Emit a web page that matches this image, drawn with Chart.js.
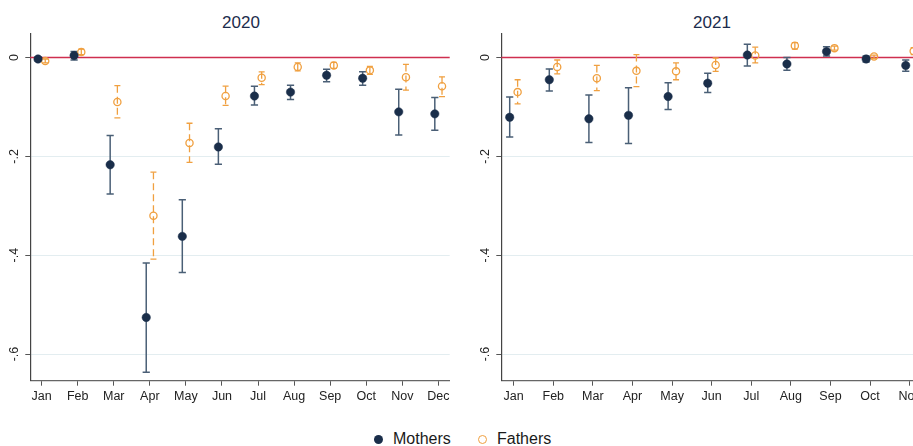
<!DOCTYPE html>
<html>
<head>
<meta charset="utf-8">
<script src="https://cdn.jsdelivr.net/npm/chart.js"></script>
<style>
  html, body { margin: 0; padding: 0; background: #fff; }
  body { width: 913px; height: 446px; overflow: hidden; position: relative;
         font-family: "Liberation Sans", Arial, sans-serif; }
  .panel { position: absolute; top: 0; height: 410px; }
  #box2020 { left: 0; width: 455px; }
  #box2021 { left: 471px; width: 500px; }
  .title { position: absolute; top: 13px; font-size: 17px; line-height: 20px;
           color: #1c2c4c; transform: translateX(-50%); white-space: nowrap; }
  .legend { position: absolute; top: 430px; left: 0; width: 913px; height: 18px; }
  .legend .item { position: absolute; top: 0; font-size: 16px; line-height: 18px; color: #1a1a1a; white-space: nowrap; }
  .legend .dot { position: absolute; width: 9px; height: 9px; border-radius: 50%; box-sizing: border-box; }
</style>
</head>
<body>
<div class="title" style="left:241px">2020</div>
<div class="title" style="left:712px">2021</div>
<div class="panel" id="box2020"><canvas id="c2020"></canvas></div>
<div class="panel" id="box2021"><canvas id="c2021"></canvas></div>
<div class="legend">
  <span class="dot" style="left:374px; top:4.5px; background:#1a2e4a;"></span>
  <span class="item" style="left:393px">Mothers</span>
  <span class="dot" style="left:477.5px; top:4.5px; border:1.5px solid #f0a040;"></span>
  <span class="item" style="left:497px">Fathers</span>
</div>
<script>
// Month labels and y-axis tick values
const months = ['Jan','Feb','Mar','Apr','May','Jun','Jul','Aug','Sep','Oct','Nov','Dec'];
const yTicks = [0, -0.2, -0.4, -0.6];

// 2020 estimates with 95% confidence bounds
const mothers2020   = [-0.003, 0.004, -0.217, -0.526, -0.362, -0.181, -0.078, -0.070, -0.036, -0.042, -0.110, -0.114];
const mothers2020Lo = [-0.007, -0.005, -0.276, -0.637, -0.435, -0.216, -0.096, -0.085, -0.049, -0.056, -0.157, -0.147];
const mothers2020Hi = [0.001, 0.012, -0.158, -0.416, -0.288, -0.144, -0.058, -0.056, -0.024, -0.029, -0.064, -0.081];
const fathers2020   = [-0.007, 0.011, -0.090, -0.320, -0.173, -0.078, -0.041, -0.019, -0.016, -0.026, -0.040, -0.058];
const fathers2020Lo = [-0.011, 0.006, -0.122, -0.408, -0.212, -0.097, -0.055, -0.027, -0.022, -0.034, -0.066, -0.079];
const fathers2020Hi = [-0.003, 0.017, -0.057, -0.232, -0.133, -0.058, -0.029, -0.011, -0.010, -0.018, -0.014, -0.039];

// 2021 estimates with 95% confidence bounds
const mothers2021   = [-0.121, -0.045, -0.124, -0.117, -0.079, -0.052, 0.005, -0.013, 0.012, -0.003, -0.016];
const mothers2021Lo = [-0.161, -0.068, -0.172, -0.174, -0.105, -0.071, -0.017, -0.026, 0.003, -0.009, -0.028];
const mothers2021Hi = [-0.080, -0.023, -0.076, -0.061, -0.051, -0.032, 0.027, 0.000, 0.022, 0.003, -0.005];
const fathers2021   = [-0.070, -0.019, -0.042, -0.027, -0.028, -0.015, 0.004, 0.024, 0.019, 0.002, 0.013];
const fathers2021Lo = [-0.094, -0.033, -0.067, -0.059, -0.045, -0.028, -0.011, 0.017, 0.015, -0.002, 0.006];
const fathers2021Hi = [-0.045, -0.005, -0.016, 0.006, -0.011, -0.001, 0.021, 0.030, 0.023, 0.005, 0.020];

const FONT = '"Liberation Sans", Arial, sans-serif';
const NAVY = '#1a2e4a';
const ORANGE = '#f0a040';

const barStyle = {
  Mothers: { color: '#4a5f76', width: 1.5, cap: 3.6, dash: [] },
  Fathers: { color: ORANGE, width: 1.3, cap: 3.0, dash: [7, 4] }
};

function points(vals, lo, hi, shift) {
  return vals.map((v, i) => ({ x: i + 1 + shift, y: v, lo: lo[i], hi: hi[i] }));
}

function fmtY(v) {
  if (Math.abs(v) < 1e-9) return '0';
  return (v < 0 ? '-' : '') + Math.abs(v).toFixed(1).replace(/^0/, '');
}

// Horizontal reference line at zero
const zeroLine = {
  id: 'zeroLine',
  beforeDatasetsDraw(chart) {
    const { ctx, chartArea, scales: { y } } = chart;
    const py = y.getPixelForValue(0);
    ctx.save();
    ctx.strokeStyle = '#cf2f4f';
    ctx.lineWidth = 1.3;
    ctx.beginPath();
    ctx.moveTo(chartArea.left, py);
    ctx.lineTo(chartArea.right, py);
    ctx.stroke();
    ctx.restore();
  }
};

// Capped confidence-interval spikes under each marker
const errorBars = {
  id: 'errorBars',
  beforeDatasetsDraw(chart) {
    const { ctx, scales: { x, y } } = chart;
    chart.data.datasets.forEach(ds => {
      const st = barStyle[ds.label];
      ctx.save();
      ctx.strokeStyle = st.color;
      ctx.lineWidth = st.width;
      ds.data.forEach(p => {
        const px = x.getPixelForValue(p.x);
        const top = y.getPixelForValue(p.hi);
        const bot = y.getPixelForValue(p.lo);
        ctx.setLineDash(st.dash);
        ctx.beginPath();
        ctx.moveTo(px, top);
        ctx.lineTo(px, bot);
        ctx.stroke();
        ctx.setLineDash([]);
        ctx.beginPath();
        ctx.moveTo(px - st.cap, top); ctx.lineTo(px + st.cap, top);
        ctx.moveTo(px - st.cap, bot); ctx.lineTo(px + st.cap, bot);
        ctx.stroke();
      });
      ctx.restore();
    });
  }
};

function makeChart(id, m, mLo, mHi, f, fLo, fHi, xMin, xMax) {
  return new Chart(document.getElementById(id), {
    type: 'scatter',
    data: {
      datasets: [
        { label: 'Mothers', data: points(m, mLo, mHi, -0.1),
          pointRadius: 4.2, pointBackgroundColor: NAVY, pointBorderColor: NAVY, pointBorderWidth: 0.5 },
        { label: 'Fathers', data: points(f, fLo, fHi, 0.1),
          pointRadius: 3.6, pointBackgroundColor: 'rgba(0,0,0,0)', pointBorderColor: ORANGE, pointBorderWidth: 1.3 }
      ]
    },
    options: {
      responsive: true,
      maintainAspectRatio: false,
      animation: false,
      layout: { padding: { top: 33.3, right: 3, left: 0, bottom: 0 } },
      plugins: { legend: { display: false }, tooltip: { enabled: false } },
      scales: {
        x: {
          type: 'linear', min: xMin, max: xMax,
          afterBuildTicks: s => { s.ticks = months.map((_, i) => ({ value: i + 1 })); },
          afterFit: s => { s.height = 29.3; },
          ticks: { callback: v => months[Math.round(v) - 1], autoSkip: false, maxRotation: 0,
                   padding: 3, color: '#222', font: { family: FONT, size: 12.5 } },
          grid: { drawOnChartArea: false, drawTicks: true, tickLength: 5, tickColor: '#555' },
          border: { color: '#666', width: 1.2 }
        },
        y: {
          min: -0.654, max: 0.049,
          afterBuildTicks: s => { s.ticks = yTicks.map(v => ({ value: v })); },
          afterFit: s => { s.width = 30.3; },
          ticks: { callback: v => fmtY(v), minRotation: 90, maxRotation: 90, crossAlign: 'center',
                   padding: 3, color: '#222', font: { family: FONT, size: 12.5 } },
          grid: { color: c => (c.tick && Math.abs(c.tick.value) < 1e-9) ? 'rgba(0,0,0,0)' : '#e3edf0',
                  tickLength: 5, tickColor: '#555', lineWidth: 1 },
          border: { color: '#444', width: 1.2 }
        }
      }
    },
    plugins: [zeroLine, errorBars]
  });
}

makeChart('c2020', mothers2020, mothers2020Lo, mothers2020Hi,
          fathers2020, fathers2020Lo, fathers2020Hi, 0.686, 12.313);
makeChart('c2021', mothers2021, mothers2021Lo, mothers2021Hi,
          fathers2021, fathers2021Lo, fathers2021Hi, 0.688, 12.414);
</script>
</body>
</html>
